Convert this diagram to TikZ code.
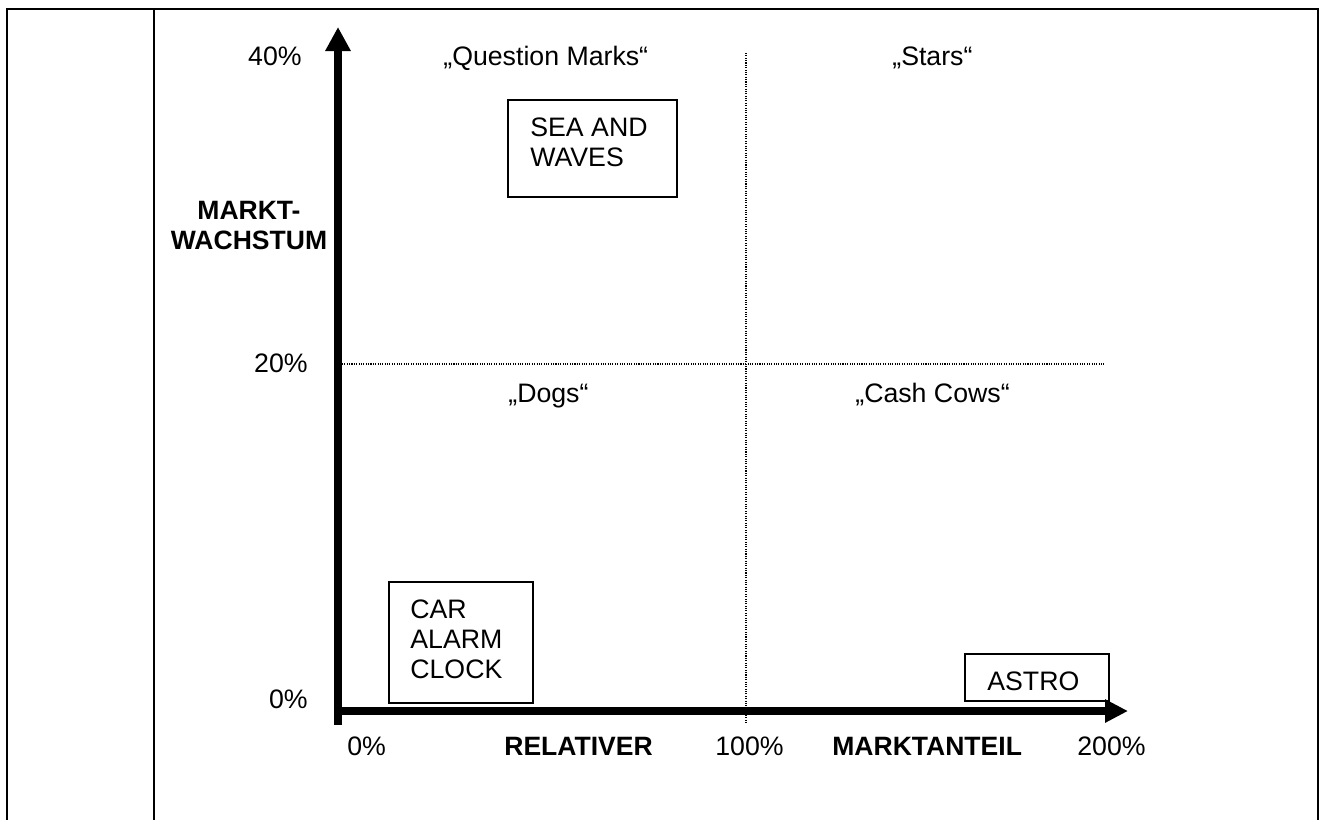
\documentclass[tikz,border=0pt]{standalone}
\usepackage{fontspec}
\setmainfont{Liberation Sans}
\usetikzlibrary{arrows.meta}
\begin{document}
\begin{tikzpicture}[x=0.02cm,y=-0.02cm,
  frame/.style={line width=1.5pt},
  yaxis/.style={line width=4.5pt,-{Triangle[length=0.48cm,width=0.48cm]}},
  xaxis/.style={line width=4.5pt,-{Triangle[length=0.46cm,width=0.44cm]}},
  gridline/.style={line width=0.8pt,dash pattern=on 0.6pt off 0.75pt},
  box/.style={draw,rectangle,line width=1.1pt,inner sep=0pt},
  lbl/.style={inner sep=0pt,font=\fontsize{15.2pt}{17.2pt}\selectfont},
  boldlbl/.style={lbl,font=\fontsize{15.1pt}{17.2pt}\selectfont\bfseries}]
\useasboundingbox (0,0) rectangle (1321,819);

% page frame, open at the bottom
\draw[frame] (7,830) -- (7,9) -- (1318,9) -- (1318,830);
\draw[frame] (154,9) -- (154,830);

% axis end points
\coordinate (ybot) at (338,725);
\coordinate (ytop) at (338,27);
\coordinate (xleft) at (334,711);
\coordinate (xtip) at (1128,711);
% quadrant dividers
\coordinate (vtop) at (746,53);
\coordinate (vbot) at (746,723);
\coordinate (hleft) at (342,364);
\coordinate (hright) at (1105,364);

\draw[gridline] (vtop) -- (vbot);
\draw[gridline] (hleft) -- (hright);
\draw[yaxis] (ybot) -- (ytop);
\draw[xaxis] (xleft) -- (xtip);

% product boxes
\node[box,minimum width=3.38cm,minimum height=1.94cm] (seabox) at (592.5,148.5) {};
\node[box,minimum width=2.88cm,minimum height=2.42cm] (carbox) at (461,642.5) {};
\node[box,minimum width=2.88cm,minimum height=0.94cm] (astrobox) at (1037,677.5) {};
\node[lbl,anchor=north west,align=left] (sea) at (530,117) {SEA AND\\WAVES};
\node[lbl,anchor=north west,align=left] (car) at (410,599) {CAR\\ALARM\\CLOCK};
\node[lbl,anchor=base west] (astro) at (987,690) {ASTRO};

% quadrant names
\node[lbl,anchor=base west] (qm) at (443,65) {„Question Marks“};
\node[lbl,anchor=base west] (stars) at (892,65) {„Stars“};
\node[lbl,anchor=base west] (dogs) at (508,402) {„Dogs“};
\node[lbl,anchor=base west] (cows) at (855,402) {„Cash Cows“};

% y axis labels
\node[lbl,anchor=base east] (y40) at (302,65) {40\%};
\node[lbl,anchor=base east] (y20) at (308,372) {20\%};
\node[lbl,anchor=base east] (y0) at (308,708) {0\%};
\node[boldlbl,anchor=north,align=center] (ytitle) at (249,201) {MARKT-\\WACHSTUM};

% x axis labels
\node[lbl,anchor=base west] (x0) at (347,755) {0\%};
\node[boldlbl,anchor=base west] (xt1) at (504,755) {RELATIVER};
\node[lbl,anchor=base west] (x100) at (715,755) {100\%};
\node[boldlbl,anchor=base west] (xt2) at (832,755) {MARKTANTEIL};
\node[lbl,anchor=base west] (x200) at (1077,755) {200\%};
\end{tikzpicture}
\end{document}
